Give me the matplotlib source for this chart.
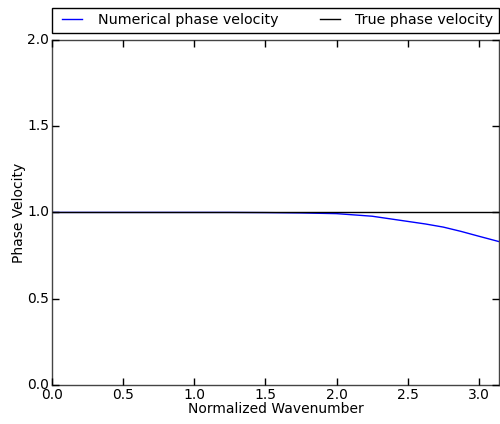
import matplotlib
matplotlib.use('Agg')
import matplotlib.pyplot as plt
import numpy as np

# values
wavenumber = [0.0, 0.25, 0.5, 0.75, 1.0, 1.25, 1.5, 1.75, 2.0, 2.25, 2.5,
              2.625, 2.75, 2.875, 3.0, np.pi]
numerical_velocity = [1.0, 1.0, 1.0, 1.0, 1.0, 1.0, 0.999, 0.997, 0.993, 0.978, 0.948,
                      0.933, 0.915, 0.890, 0.862, 0.831]
true_velocity = [1.0] * len(wavenumber)

plt.style.use('classic')
plt.rcParams['font.family'] = ['DejaVu Sans']

fig = plt.figure(figsize=(5.0, 4.24), dpi=100)
ax = fig.add_axes([0.104, 0.092, 0.894, 0.814])

ax.plot(wavenumber, numerical_velocity, 'b-', label='Numerical phase velocity')
ax.plot(wavenumber, true_velocity, 'k-', label='True phase velocity')

ax.set_xlim(0, np.pi)
ax.set_ylim(0, 2)
ax.set_xticks([0.0, 0.5, 1.0, 1.5, 2.0, 2.5, 3.0])
ax.set_yticks([0.0, 0.5, 1.0, 1.5, 2.0])
ax.tick_params(labelsize=10, direction='in', length=5, width=1, pad=2,
               top=True, right=True)
ax.set_xlabel('Normalized Wavenumber', fontsize=10, labelpad=0)
ax.set_ylabel('Phase Velocity', fontsize=10, labelpad=1)
for s in ax.spines.values():
    s.set_color('#444444')

ax.legend(bbox_to_anchor=(0., 1.02, 1., .072), loc=3, ncol=2, mode="expand",
          borderaxespad=0., fontsize=10.3, handlelength=2.0)

fig.savefig('out.png', dpi=100, facecolor='w')
